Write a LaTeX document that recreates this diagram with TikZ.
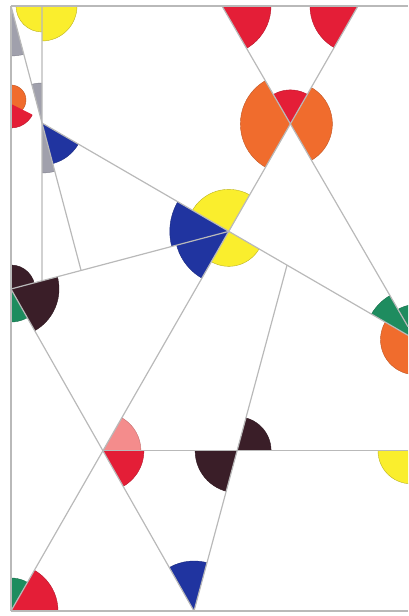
\documentclass[tikz,border=0pt]{standalone}
\usetikzlibrary{calc}
\definecolor{redc}{RGB}{228,30,55}
\definecolor{orangec}{RGB}{240,108,45}
\definecolor{yellowc}{RGB}{250,238,45}
\definecolor{bluec}{RGB}{32,52,160}
\definecolor{darkc}{RGB}{58,30,40}
\definecolor{greenc}{RGB}{30,140,95}
\definecolor{grayc}{RGB}{160,160,172}
\definecolor{pinkc}{RGB}{244,140,140}
\definecolor{linec}{RGB}{185,185,185}
\tikzset{
  sk/.style={line width=0.3pt},
  fred/.style={fill=redc, draw=redc!80!black, sk},
  forange/.style={fill=orangec, draw=orangec!80!black, sk},
  fyel/.style={fill=yellowc, draw=yellowc!75!black, sk},
  fblue/.style={fill=bluec, draw=bluec!80!black, sk},
  fdark/.style={fill=darkc, draw=darkc!80!black, sk},
  fgreen/.style={fill=greenc, draw=greenc!80!black, sk},
  fgray/.style={fill=grayc, draw=grayc!80!black, sk},
  fpink/.style={fill=pinkc, draw=pinkc!80!black, sk},
  ln/.style={draw=linec, line width=0.9pt},
}
\newcommand\wedgefill[5]{%
  \begin{scope}
    \clip (#2) -- ($(#2)!8cm!(#3)$) -- ($(#2)!8cm!(#4)$) -- cycle;
    \filldraw[#1] (#2) circle[radius=#5];
  \end{scope}}
\begin{document}
\begin{tikzpicture}[x=0.75pt,y=-0.75pt]
\useasboundingbox (0,0) rectangle (408,616);
% frame and base points
\coordinate (TL) at (11,6);
\coordinate (TR) at (408,6);
\coordinate (BL) at (11,611);
\coordinate (BR) at (408,611);
\coordinate (T42) at (42,6);
\coordinate (B42) at (42,611);
\coordinate (TA) at (222,6);
\coordinate (TB) at (358,6);
\coordinate (RA) at (408,326.7);
\coordinate (K) at (42,123);
\coordinate (R2) at (408,335.3);
\coordinate (D) at (11,289);
\coordinate (Q1) at (194,611);
\coordinate (E0) at (287,0);
\coordinate (E9) at (287,616);
% derived vertices
\coordinate (X) at (intersection of TA--RA and TB--BL);
\coordinate (V) at (intersection of TB--BL and K--R2);
\coordinate (G) at (intersection of TA--RA and K--R2);
\coordinate (M) at (intersection of TL--K and D--V);
\coordinate (N42) at (intersection of T42--B42 and D--V);
\coordinate (E1) at (intersection of K--R2 and E0--E9);
\coordinate (P) at (intersection of TB--BL and D--Q1);
\coordinate (R3) at (P -| TR);
\coordinate (H) at (intersection of E1--Q1 and P--R3);
\coordinate (Y) at ($(R3)+(3,0)$);
\coordinate (YD) at (Y |- BR);
\coordinate (GU) at (G |- TR);
\coordinate (GD) at (G |- BR);
\coordinate (OL) at (11,100);
\coordinate (RL) at (11,104);
\coordinate (RLt) at (33,115);
% coloured sectors
\begin{scope}
\clip (TL) rectangle (BR);
\wedgefill{fyel}{T42}{TL}{B42}{26}
\wedgefill{fyel}{T42}{TR}{B42}{35}
\wedgefill{fgray}{TL}{BL}{K}{50}
\wedgefill{fgray}{K}{T42}{TL}{40}
\wedgefill{fgray}{K}{B42}{M}{50}
\wedgefill{fblue}{K}{M}{R2}{42}
\filldraw[forange] (OL) circle[radius=15];
\wedgefill{fred}{RL}{BL}{RLt}{24}
\wedgefill{fred}{TA}{TR}{X}{49}
\wedgefill{fred}{TB}{TL}{X}{48}
\wedgefill{forange}{X}{TA}{V}{50}
\wedgefill{forange}{X}{TB}{RA}{42}
\wedgefill{fred}{X}{TA}{TB}{34}
\wedgefill{fblue}{V}{K}{D}{59}
\wedgefill{fblue}{V}{D}{BL}{54}
\wedgefill{fyel}{V}{TB}{K}{42}
\wedgefill{fyel}{V}{BL}{R2}{35}
\wedgefill{fdark}{D}{V}{Q1}{48}
\wedgefill{fdark}{D}{TL}{V}{24}
\wedgefill{fgreen}{D}{Q1}{BL}{33}
\wedgefill{fpink}{P}{R3}{TB}{38}
\wedgefill{fred}{P}{R3}{Q1}{41}
\wedgefill{fdark}{H}{R3}{E1}{34}
\wedgefill{fdark}{H}{P}{Q1}{42}
\wedgefill{fblue}{Q1}{E1}{D}{50}
\wedgefill{fgreen}{BL}{TL}{TB}{33}
\wedgefill{fred}{BL}{BR}{TB}{47}
\wedgefill{fgreen}{G}{TA}{K}{51}
\wedgefill{fgreen}{G}{TA}{GU}{35}
\wedgefill{forange}{G}{K}{GD}{35}
\wedgefill{fyel}{Y}{P}{YD}{33}
\end{scope}
% lines
\draw[ln] (TL) -- (TR);
\draw[ln] (TL) -- (BL);
\draw[ln] (BL) -- (BR);
\draw[ln] (T42) -- (N42);
\draw[ln] (TL) -- (M);
\draw[ln] (K) -- (R2);
\draw[ln] (D) -- (V);
\draw[ln] (TA) -- (RA);
\draw[ln] (TB) -- (BL);
\draw[ln] (D) -- (Q1);
\draw[ln] (E1) -- (Q1);
\draw[ln] (P) -- (R3);
\end{tikzpicture}
\end{document}
